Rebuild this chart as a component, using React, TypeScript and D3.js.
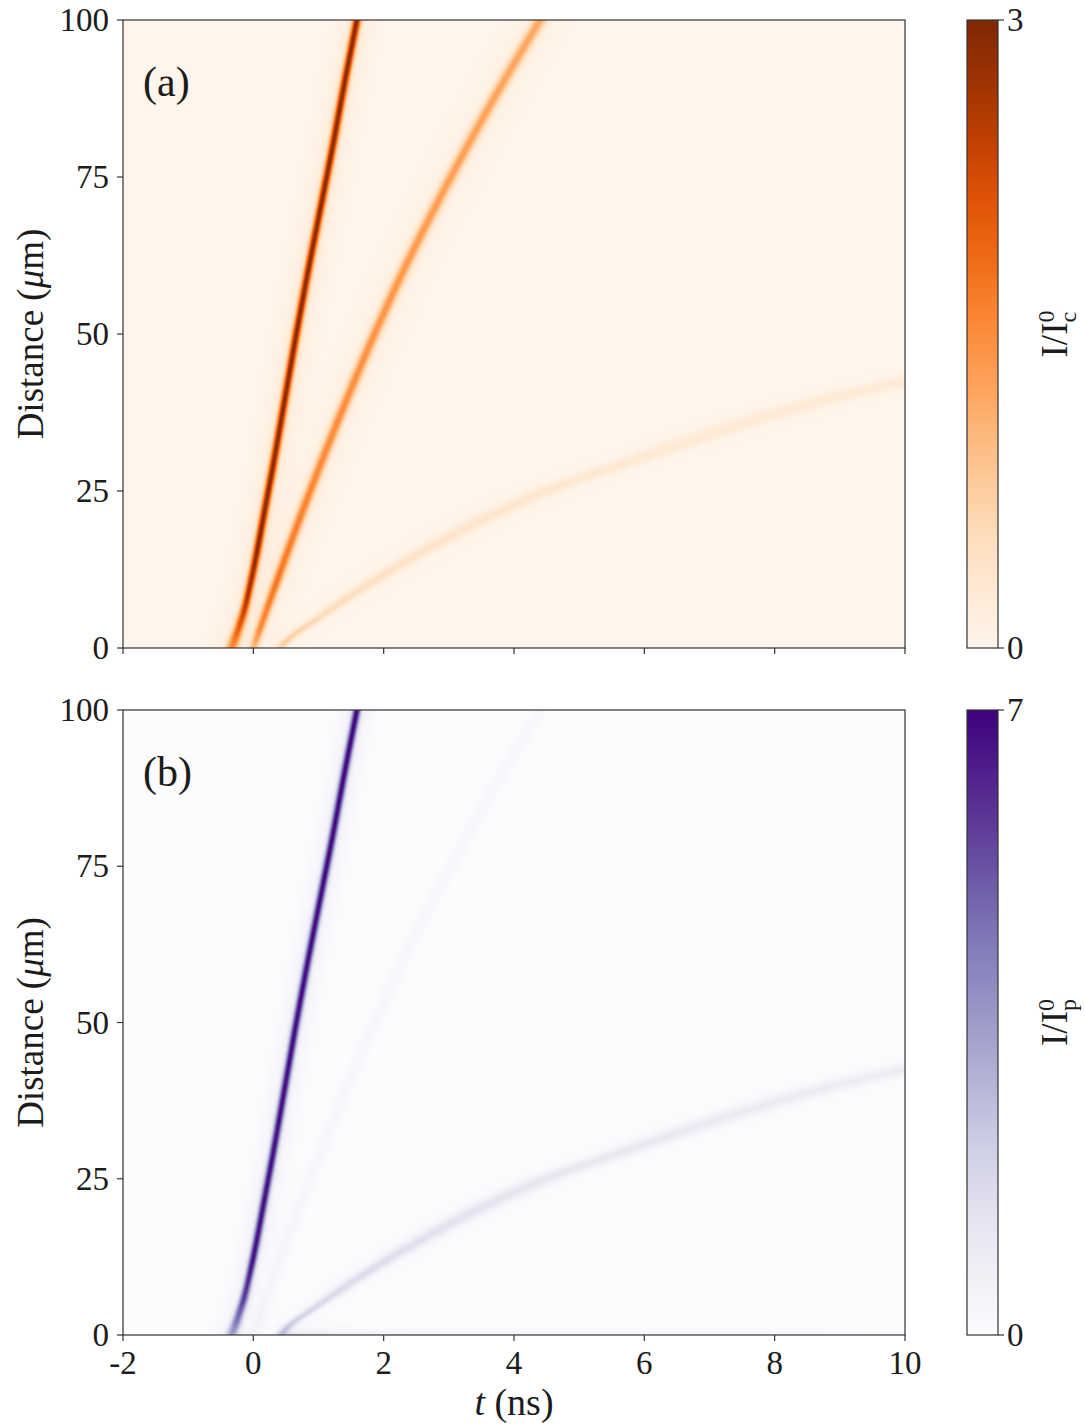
import React, { useMemo } from 'react';
import * as d3 from 'd3';

// Axis domains and ticks
const T_DOMAIN: [number, number] = [-2, 10];
const D_DOMAIN: [number, number] = [0, 100];
const tTicks = [-2, 0, 2, 4, 6, 8, 10];
const dTicks = [0, 25, 50, 75, 100];

// Fast pulse: arrival time (ns) at each distance (um)
const fastDist = [0, 3, 6, 10, 15, 20, 30, 40, 50, 60, 70, 80, 90, 100];
const fastTime = [-0.33, -0.23, -0.14, -0.05, 0.05, 0.14, 0.32, 0.49, 0.66, 0.84, 1.03, 1.22, 1.4, 1.59];
const fastWidthDist = [0, 3, 8, 100];
const fastWidth = [0.07, 0.055, 0.045, 0.045];

// Intermediate pulse
const midDist = [0, 10, 20, 30, 40, 50, 60, 70, 80, 90, 100];
const midTime = [0.0, 0.34, 0.69, 1.06, 1.45, 1.86, 2.3, 2.78, 3.29, 3.83, 4.4];
const midWidthDist = [0, 20, 100];
const midWidth = [0.05, 0.06, 0.078];

// Slow, dispersive pulse
const slowDist = [0, 1, 5, 10, 15, 20, 25, 30, 35, 40, 42.5, 46, 50];
const slowTime = [0.42, 0.5, 1.03, 1.74, 2.54, 3.43, 4.49, 5.87, 7.29, 8.95, 10.0, 11.6, 13.5];
const slowWidthDist = [0, 5, 10, 20, 30, 40, 50];
const slowWidth = [0.06, 0.08, 0.11, 0.16, 0.21, 0.29, 0.4];

// Panel (a): peak intensity I/I_c^0 along each pulse
const aFastAmpDist = [0, 3, 8, 15, 100];
const aFastAmp = [1.5, 2.0, 2.6, 2.9, 2.9];
const aMidAmpDist = [0, 3, 10, 30, 60, 100];
const aMidAmp = [0.95, 1.5, 1.75, 1.55, 1.38, 1.2];
const aSlowAmpDist = [0, 1, 5, 15, 30, 45];
const aSlowAmp = [0.6, 0.75, 0.55, 0.4, 0.3, 0.25];

// Panel (b): peak intensity I/I_p^0 along each pulse
const bFastAmpDist = [0, 2, 6, 12, 100];
const bFastAmp = [3.3, 4.4, 5.8, 6.7, 6.9];
const bMidAmpDist = [0, 10, 100];
const bMidAmp = [0.42, 0.36, 0.25];
const bMidWidth = [0.07, 0.075, 0.085];
const bSlowAmpDist = [0, 1, 5, 10, 25, 40];
const bSlowAmp = [2.2, 2.2, 1.7, 1.6, 1.2, 0.9];

// Panel (b): glow at the entrance surface
const surfaceTime = [0.35, 0.55, 1.5, 4, 10];
const surfaceAmp = [0, 1.6, 1.1, 0.7, 0.5];
const surfaceDepth = 0.6;

const aMax = 3;
const bMax = 7;

// Layout
const W = 1085;
const H = 1427;
const left = 123;
const right = 905;
const panels = [
  { top: 20, bottom: 648 },
  { top: 710, bottom: 1335 },
];
const cbLeft = 967;
const cbRight = 998;

const FONT = '"Liberation Serif", "DejaVu Serif", serif';
const INK = '#1c1c1c';

type Pulse = {
  dist: number[];
  time: number[];
  widthDist: number[];
  width: number[];
  ampDist: number[];
  amp: number[];
};

// Monotone cubic (Fritsch–Carlson) through the control points, linear outside.
function monotoneSpline(xs: number[], ys: number[]) {
  const n = xs.length;
  const h: number[] = [];
  const s: number[] = [];
  for (let i = 0; i < n - 1; i++) {
    h.push(xs[i + 1] - xs[i]);
    s.push((ys[i + 1] - ys[i]) / h[i]);
  }
  const m: number[] = new Array(n);
  m[0] = s[0];
  m[n - 1] = s[n - 2];
  for (let i = 1; i < n - 1; i++) {
    if (s[i - 1] * s[i] <= 0) m[i] = 0;
    else {
      const w1 = 2 * h[i] + h[i - 1];
      const w2 = h[i] + 2 * h[i - 1];
      m[i] = (w1 + w2) / (w1 / s[i - 1] + w2 / s[i]);
    }
  }
  return (x: number) => {
    if (x <= xs[0]) return ys[0] + m[0] * (x - xs[0]);
    if (x >= xs[n - 1]) return ys[n - 1] + m[n - 1] * (x - xs[n - 1]);
    let i = d3.bisectRight(xs, x) - 1;
    if (i > n - 2) i = n - 2;
    const t = (x - xs[i]) / h[i];
    const t2 = t * t;
    const t3 = t2 * t;
    return (
      (2 * t3 - 3 * t2 + 1) * ys[i] +
      (t3 - 2 * t2 + t) * h[i] * m[i] +
      (-2 * t3 + 3 * t2) * ys[i + 1] +
      (t3 - t2) * h[i] * m[i + 1]
    );
  };
}

function renderField(
  pulses: Pulse[],
  surface: null | { time: number[]; amp: number[]; depth: number },
  w: number,
  h: number,
  interp: (t: number) => string,
  vmax: number
): string {
  const x = d3.scaleLinear().domain(T_DOMAIN).range([0, w]);
  const y = d3.scaleLinear().domain(D_DOMAIN).range([h, 0]);
  const lut: [number, number, number][] = [];
  for (let k = 0; k < 256; k++) {
    const c = d3.rgb(interp(k / 255));
    lut.push([c.r, c.g, c.b]);
  }
  const scales = pulses.map((p) => ({
    t: monotoneSpline(p.dist, p.time),
    s: d3.scaleLinear().domain(p.widthDist).range(p.width).clamp(true),
    a: d3.scaleLinear().domain(p.ampDist).range(p.amp).clamp(true),
  }));
  const surf = surface
    ? d3.scaleLinear().domain(surface.time).range(surface.amp).clamp(true)
    : null;
  const canvas = document.createElement('canvas');
  canvas.width = w;
  canvas.height = h;
  const ctx = canvas.getContext('2d')!;
  const img = ctx.createImageData(w, h);
  const data = img.data;
  const ts = new Float64Array(w);
  for (let i = 0; i < w; i++) ts[i] = x.invert(i + 0.5);
  for (let j = 0; j < h; j++) {
    const d = y.invert(j + 0.5);
    const rows = scales.map((s) => ({ T: s.t(d), sg: s.s(d), A: s.a(d) }));
    const surfFactor = surface ? Math.exp(-Math.max(d, 0) / surface.depth) : 0;
    for (let i = 0; i < w; i++) {
      const t = ts[i];
      let v = 0;
      for (const r of rows) {
        const u = (t - r.T) / r.sg;
        const u2 = u * u;
        v += r.A * (0.93 * Math.exp(-0.5 * u2) + 0.07 * Math.exp(-0.5 * u2 / 16));
      }
      if (surf && t > surface!.time[0]) v += surf(t) * surfFactor;
      let k = Math.round((v / vmax) * 255);
      if (k < 0) k = 0;
      if (k > 255) k = 255;
      const c = lut[k];
      const o = (j * w + i) * 4;
      data[o] = c[0];
      data[o + 1] = c[1];
      data[o + 2] = c[2];
      data[o + 3] = 255;
    }
  }
  ctx.putImageData(img, 0, 0);
  return canvas.toDataURL();
}

function Panel({
  top,
  bottom,
  href,
  label,
  showXLabels,
  interp,
  vmax,
  cbar,
  gid,
}: {
  top: number;
  bottom: number;
  href: string;
  label: string;
  showXLabels: boolean;
  interp: (t: number) => string;
  vmax: number;
  cbar: string;
  gid: string;
}) {
  const x = d3.scaleLinear().domain(T_DOMAIN).range([left, right]);
  const y = d3.scaleLinear().domain(D_DOMAIN).range([bottom, top]);
  const cy = d3.scaleLinear().domain([0, vmax]).range([bottom, top]);
  const stops = d3.range(0, 1.0001, 0.05);
  const mid = (top + bottom) / 2;
  return (
    <g>
      <defs>
        <linearGradient id={gid} x1="0" y1="1" x2="0" y2="0">
          {stops.map((s) => (
            <stop key={s} offset={s} stopColor={interp(s)} />
          ))}
        </linearGradient>
      </defs>
      <image
        href={href}
        x={left}
        y={top}
        width={right - left}
        height={bottom - top}
        preserveAspectRatio="none"
      />
      <rect
        x={left}
        y={top}
        width={right - left}
        height={bottom - top}
        fill="none"
        stroke="#333"
        strokeWidth={1.2}
      />
      {dTicks.map((d) => (
        <g key={d}>
          <line x1={left - 6} x2={left} y1={y(d)} y2={y(d)} stroke="#333" strokeWidth={1.2} />
          <text
            x={left - 14}
            y={y(d)}
            dy="0.34em"
            textAnchor="end"
            fontSize={33}
            fontFamily={FONT}
            fill={INK}
          >
            {d}
          </text>
        </g>
      ))}
      {tTicks.map((t) => (
        <g key={t}>
          <line x1={x(t)} x2={x(t)} y1={bottom} y2={bottom + 6} stroke="#333" strokeWidth={1.2} />
          {showXLabels && (
            <text
              x={x(t)}
              y={bottom + 39}
              textAnchor="middle"
              fontSize={33}
              fontFamily={FONT}
              fill={INK}
            >
              {t}
            </text>
          )}
        </g>
      ))}
      <text
        transform={`translate(43, ${mid}) rotate(-90)`}
        textAnchor="middle"
        fontSize={37}
        fontFamily={FONT}
        fill={INK}
      >
        Distance (<tspan fontStyle="italic">μ</tspan>m)
      </text>
      <text x={143} y={top + 76} fontSize={42} fontFamily={FONT} fill={INK}>
        {label}
      </text>
      {/* colour bar */}
      <rect
        x={cbLeft}
        y={top}
        width={cbRight - cbLeft}
        height={bottom - top}
        fill={`url(#${gid})`}
        stroke="#333"
        strokeWidth={1.2}
      />
      {[0, vmax].map((v) => (
        <g key={v}>
          <line x1={cbRight} x2={cbRight + 6} y1={cy(v)} y2={cy(v)} stroke="#333" strokeWidth={1.2} />
          <text
            x={cbRight + 9}
            y={cy(v)}
            dy="0.34em"
            fontSize={33}
            fontFamily={FONT}
            fill={INK}
          >
            {v}
          </text>
        </g>
      ))}
      <text
        transform={`translate(1067, ${mid}) rotate(-90)`}
        textAnchor="middle"
        fontSize={37}
        fontFamily={FONT}
        fill={INK}
      >
        I/I
        <tspan dy={-13} fontSize={24}>0</tspan>
        <tspan dx={-12} dy={22} fontSize={24}>{cbar}</tspan>
      </text>
    </g>
  );
}

export default function App() {
  const [hrefA, hrefB] = useMemo(() => {
    const w = right - left;
    const ha = panels[0].bottom - panels[0].top;
    const hb = panels[1].bottom - panels[1].top;
    const a = renderField(
      [
        { dist: fastDist, time: fastTime, widthDist: fastWidthDist, width: fastWidth, ampDist: aFastAmpDist, amp: aFastAmp },
        { dist: midDist, time: midTime, widthDist: midWidthDist, width: midWidth, ampDist: aMidAmpDist, amp: aMidAmp },
        { dist: slowDist, time: slowTime, widthDist: slowWidthDist, width: slowWidth, ampDist: aSlowAmpDist, amp: aSlowAmp },
      ],
      null,
      w,
      ha,
      d3.interpolateOranges,
      aMax
    );
    const b = renderField(
      [
        { dist: fastDist, time: fastTime, widthDist: fastWidthDist, width: fastWidth, ampDist: bFastAmpDist, amp: bFastAmp },
        { dist: midDist, time: midTime, widthDist: midWidthDist, width: bMidWidth, ampDist: bMidAmpDist, amp: bMidAmp },
        { dist: slowDist, time: slowTime, widthDist: slowWidthDist, width: slowWidth, ampDist: bSlowAmpDist, amp: bSlowAmp },
      ],
      { time: surfaceTime, amp: surfaceAmp, depth: surfaceDepth },
      w,
      hb,
      d3.interpolatePurples,
      bMax
    );
    return [a, b];
  }, []);

  return (
    <svg
      width={W}
      height={H}
      viewBox={`0 0 ${W} ${H}`}
      style={{ position: 'absolute', left: 0, top: 0, background: '#fff' }}
    >
      <Panel
        top={panels[0].top}
        bottom={panels[0].bottom}
        href={hrefA}
        label="(a)"
        showXLabels={false}
        interp={d3.interpolateOranges}
        vmax={aMax}
        cbar="c"
        gid="cbA"
      />
      <Panel
        top={panels[1].top}
        bottom={panels[1].bottom}
        href={hrefB}
        label="(b)"
        showXLabels={true}
        interp={d3.interpolatePurples}
        vmax={bMax}
        cbar="p"
        gid="cbB"
      />
      <text
        x={(left + right) / 2}
        y={1415}
        textAnchor="middle"
        fontSize={38}
        fontFamily={FONT}
        fill={INK}
      >
        <tspan fontStyle="italic">t</tspan> (ns)
      </text>
    </svg>
  );
}
